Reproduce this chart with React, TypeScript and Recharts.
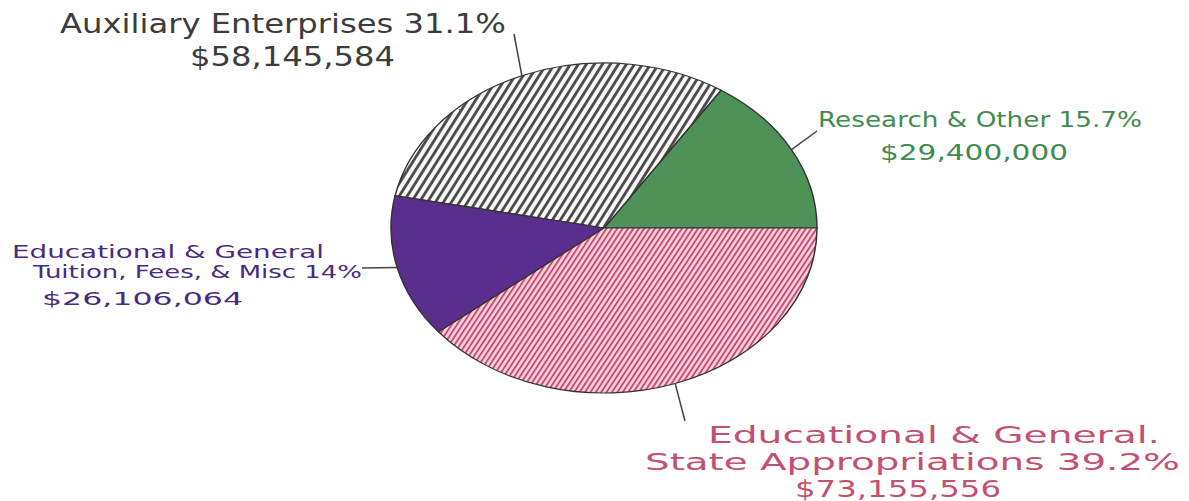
import React from 'react';
import { PieChart, Pie, Cell } from 'recharts';

// slices, counter-clockwise from 3 o'clock
const categories = ['Research & Other', 'Auxiliary Enterprises', 'Educational & General Tuition, Fees, & Misc', 'Educational & General. State Appropriations'];
const nameLines = [
  ['Research & Other'],
  ['Auxiliary Enterprises'],
  ['Educational & General', 'Tuition, Fees, & Misc'],
  ['Educational & General.', 'State Appropriations'],
];
const amounts = [29400000, 58145584, 26106064, 73155556];
const percents = ['15.7%', '31.1%', '14%', '39.2%'];

const chartData = categories.map((name, i) => ({ name, value: amounts[i] }));

// drawing layout (not data)
const CX = 604;
const CY = 228;
const RX = 213;
const RY = 165;
const SQUASH = RY / RX;

const fills = ['#4e9257', 'url(#hatchAux)', '#5a2e8c', 'url(#hatchState)'];
const labelStyle = [
  { color: '#3f8c4e', size: 22, end: [817, 131], lines: [{ x: 818, y: 127, w: 324 }, { x: 880, y: 160, w: 188 }] },
  { color: '#3c3c3c', size: 26, end: [514, 34], lines: [{ x: 60, y: 33, w: 446 }, { x: 190, y: 66, w: 205 }] },
  { color: '#4a2a80', size: 17, end: [362, 268], lines: [{ x: 12, y: 258, w: 312 }, { x: 33, y: 278, w: 329 }, { x: 42, y: 305, w: 201 }] },
  { color: '#c4506f', size: 23, end: [685, 421], lines: [{ x: 708, y: 443, w: 452 }, { x: 645, y: 470, w: 535 }, { x: 795, y: 497, w: 206 }] },
];

const money = (v: number) => '$' + v.toLocaleString('en-US');

const renderLabel = (props: any) => {
  const { midAngle, index } = props;
  const st = labelStyle[index];
  const rad = (midAngle * Math.PI) / 180;
  const sx = CX + RX * Math.cos(rad);
  const sy = CY - RY * Math.sin(rad);
  const names = nameLines[index].slice();
  names[names.length - 1] = names[names.length - 1] + ' ' + percents[index];
  const texts = [...names, money(amounts[index])];
  return (
    <g key={`lbl-${index}`}>
      <line x1={sx} y1={sy} x2={st.end[0]} y2={st.end[1]} stroke="#444" strokeWidth={1.5} />
      {texts.map((t, j) => (
        <text
          key={j}
          x={st.lines[j].x}
          y={st.lines[j].y}
          fill={st.color}
          fontSize={st.size}
          fontFamily="'DejaVu Sans', sans-serif"
          textLength={st.lines[j].w}
          lengthAdjust="spacingAndGlyphs"
        >
          {t}
        </text>
      ))}
    </g>
  );
};

export default function App() {
  return (
    <div style={{ position: 'absolute', left: 0, top: 0, width: 1189, height: 501, background: '#fff' }}>
      <style>{`
        .recharts-pie-sector path.recharts-sector {
          transform-box: view-box;
          transform-origin: ${CX}px ${CY}px;
          transform: scaleY(${SQUASH});
        }
      `}</style>
      <PieChart width={1189} height={501} margin={{ top: 0, right: 0, bottom: 0, left: 0 }}>
        <defs>
          <pattern id="hatchAux" patternUnits="userSpaceOnUse" width={7.2} height={10} patternTransform="rotate(26)">
            <rect width={7.2} height={10} fill="#fbf8f8" />
            <rect x={0} width={3} height={10} fill="#4a4a4a" />
          </pattern>
          <pattern id="hatchState" patternUnits="userSpaceOnUse" width={4.8} height={10} patternTransform="rotate(27)">
            <rect width={4.8} height={10} fill="#f7d2dc" />
            <rect x={0} width={2} height={10} fill="#cc4a72" />
          </pattern>
        </defs>
        <Pie
          data={chartData}
          dataKey="value"
          nameKey="name"
          cx={CX}
          cy={CY}
          outerRadius={RX}
          startAngle={0}
          endAngle={360}
          stroke="#333"
          strokeWidth={1.5}
          label={renderLabel}
          labelLine={false}
          isAnimationActive={false}
        >
          {chartData.map((d, i) => (
            <Cell key={`cell-${i}`} fill={fills[i]} />
          ))}
        </Pie>
      </PieChart>
    </div>
  );
}
